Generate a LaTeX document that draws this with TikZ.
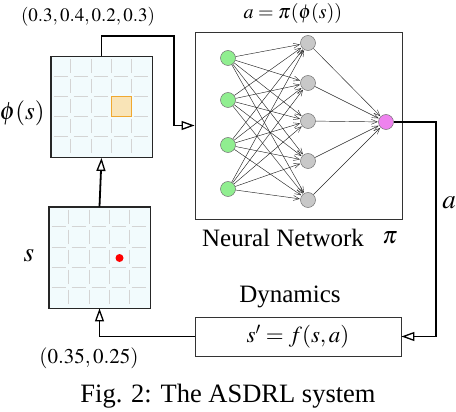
\documentclass[tikz,border=0pt]{standalone}
\usepackage{mathptmx}
\usepackage{fontspec}
\setmainfont{Liberation Serif}
\usetikzlibrary{arrows.meta,positioning}
\definecolor{gridfill}{HTML}{F2FBFD}
\definecolor{gridline}{HTML}{D4D4D4}
\definecolor{cellfill}{HTML}{F9E4B7}
\definecolor{celledge}{HTML}{F0A830}
\definecolor{ingreen}{HTML}{90EE90}
\definecolor{hidgray}{HTML}{C8C8C8}
\definecolor{outpink}{HTML}{EE82EE}
\tikzset{
  gridbox/.style={draw=black!85, line width=0.9pt, fill=gridfill, minimum width=101pt, minimum height=101pt, inner sep=0pt},
  plainbox/.style={draw=black!80, line width=0.9pt, inner sep=0pt},
  conn/.style={line width=1.8pt, -{Triangle[open, fill=white, length=13pt, width=9pt, line width=1.3pt]}},
  neuron/.style={circle, draw=black!55, line width=0.5pt, minimum size=15pt, inner sep=0pt},
  syn/.style={line width=0.45pt, black!85, -{Straight Barb[length=6pt, width=5pt, line width=0.4pt]}, shorten >=0.5pt},
  gl/.style={gridline, line width=0.7pt, dash pattern=on 14pt off 6pt, dash phase=-3pt},
  lbl/.style={inner sep=0pt}
}
\begin{document}
\begin{tikzpicture}[x=1pt, y=-1pt]
\useasboundingbox (0,0) rectangle (456,412);
% phi(s) grid
\node[gridbox] (phi) at (101.5,107) {};
\foreach \i in {1,2,3,4}{
  \draw[gl] ([xshift=\i*20.2pt]phi.north west) -- ([xshift=\i*20.2pt]phi.south west);
  \draw[gl] ([yshift=-\i*20.2pt]phi.north west) -- ([yshift=-\i*20.2pt]phi.north east);
}
\node[draw=celledge, line width=1pt, fill=cellfill, minimum size=20pt, inner sep=0pt] (cell) at (121,107) {};
\draw[draw=black!85, line width=0.9pt] (phi.north west) rectangle (phi.south east);
% s grid
\node[gridbox] (s) at (99.5,257.5) {};
\foreach \i in {1,2,3,4}{
  \draw[gl] ([xshift=\i*20.2pt]s.north west) -- ([xshift=\i*20.2pt]s.south west);
  \draw[gl] ([yshift=-\i*20.2pt]s.north west) -- ([yshift=-\i*20.2pt]s.north east);
}
\draw[draw=black!85, line width=0.9pt] (s.north west) rectangle (s.south east);
\node[circle, fill=red, minimum size=8pt, inner sep=0pt] (dot) at (119.5,258) {};
% neural network box
\node[plainbox, minimum width=207pt, minimum height=187pt] (nn) at (298.5,125.5) {};
\foreach \n/\y in {1/58,2/100,3/145,4/189}{
  \node[neuron, fill=ingreen] (i\n) at (228,\y) {};
}
\foreach \n/\y in {1/43,2/83,3/121,4/161,5/200}{
  \node[neuron, fill=hidgray] (h\n) at (308,\y) {};
}
\node[neuron, fill=outpink] (o) at (386,122) {};
\foreach \a in {1,2,3,4}{
  \foreach \b in {1,2,3,4,5}{
    \draw[syn] (i\a) -- (h\b);
  }
}
\foreach \b in {1,2,3,4,5}{
  \draw[syn] (h\b) -- (o);
}
% dynamics box
\node[plainbox, minimum width=206pt, minimum height=39pt] (dyn) at (298,336.5) {\fontsize{23}{26}\selectfont$s' = f(s, a)$};
% connector corners
\coordinate (k1) at (174,36);
\coordinate (k2) at (436,122);
\draw[conn] (s.north) -- (phi.south);
\draw[conn] (phi.north) |- (k1) |- (nn.west);
\draw[conn] (o.east) -- (k2) |- (dyn.east);
\draw[conn] (dyn.west) -| (s.south);
% labels
\node[lbl] (lphi) at (88,17) {\fontsize{19}{22}\selectfont$(0.3, 0.4, 0.2, 0.3)$};
\node[lbl] (lpi) at (293,14) {\fontsize{20}{24}\selectfont$a = \pi(\phi(s))$};
\node[lbl] (lphis) at (22,113) {\fontsize{25}{28}\selectfont$\phi(s)$};
\node[lbl] (ls) at (29,256) {\fontsize{27}{30}\selectfont$s$};
\node[lbl] (la) at (449,203) {\fontsize{27}{30}\selectfont$a$};
\node[lbl] (lnn) at (283,238) {\fontsize{25}{28}\selectfont Neural Network};
\node[lbl] (lpi2) at (390,238) {\fontsize{24}{28}\selectfont$\pi$};
\node[lbl] (ldyn) at (290,297) {\fontsize{25}{28}\selectfont Dynamics};
\node[lbl] (lst) at (89,358) {\fontsize{21}{24}\selectfont$(0.35, 0.25)$};
\node[lbl] (cap) at (228,396) {\fontsize{26.5}{30}\selectfont Fig. 2: The ASDRL system};
\end{tikzpicture}
\end{document}
